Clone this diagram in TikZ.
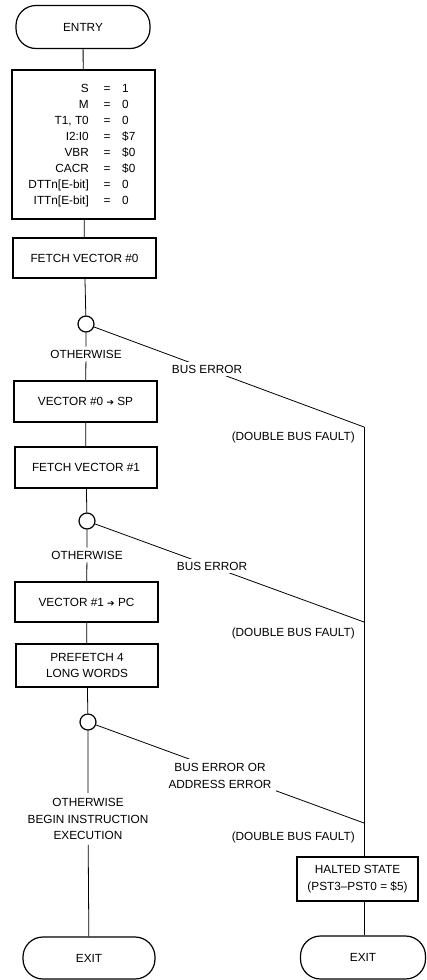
\documentclass[tikz,border=0pt]{standalone}
\usepackage{fontspec}
\setmainfont{Liberation Sans}
\newfontfamily\symfont{DejaVu Sans}
\newcommand{\goesto}{{\symfont\fontsize{9}{9}\selectfont ➔}}
\begin{document}
\begin{tikzpicture}[x=1pt,y=-1pt,
  every node/.style={font=\fontsize{11.8}{16.5}\selectfont, inner sep=0pt},
  box/.style={draw, line width=1.2pt, align=center},
  term/.style={draw, line width=1.2pt, rounded corners=20pt},
  dot/.style={draw, circle, line width=1.2pt, minimum size=16pt},
  lbl/.style={align=center, inner sep=3pt, fill=white},
  conn/.style={line width=0.8pt}]
\useasboundingbox (0,0) rectangle (427,980);

% left column
\node[term, minimum width=134pt, minimum height=43pt] (entry) at (83,27) {ENTRY};
\node[box, minimum width=143pt, minimum height=149pt] (init) at (83.5,144.5) {};
\foreach \l/\v [count=\i] in {S/1, M/0, {T1, T0}/0, I2:I0/\$7, VBR/\$0, CACR/\$0, {DTTn[E-bit]}/0, {ITTn[E-bit]}/0} {
  \pgfmathsetmacro\yy{92+16.14*(\i-1)}
  \node[anchor=base east] (k\i) at (89,\yy) {\l};
  \node[anchor=base] (q\i) at (107,\yy) {=};
  \node[anchor=base west] (v\i) at (122,\yy) {\v};
}
\node[box, minimum width=143pt, minimum height=40pt] (fv0) at (84.5,258) {FETCH VECTOR \#0};
\node[dot] (c1) at (86,324) {};
\node[lbl] (ow1) at (86,354) {OTHERWISE};
\node[box, minimum width=143pt, minimum height=41pt] (v0sp) at (85.5,401.5) {VECTOR \#0 \goesto\ SP};
\node[box, minimum width=142pt, minimum height=41pt] (fv1) at (86,467.5) {FETCH VECTOR \#1};
\node[dot] (c2) at (87,521) {};
\node[lbl] (ow2) at (87,555) {OTHERWISE};
\node[box, minimum width=143pt, minimum height=40pt] (v1pc) at (86.5,602) {VECTOR \#1 \goesto\ PC};
\node[box, minimum width=142pt, minimum height=43pt, font=\fontsize{11.8}{15.5}\selectfont] (pre) at (87,665.5) {PREFETCH 4\\LONG WORDS};
\node[dot] (c3) at (88,722) {};
\node[lbl, inner sep=5pt] (ow3) at (88,819) {OTHERWISE\\BEGIN INSTRUCTION\\EXECUTION};
\node[term, minimum width=132pt, minimum height=42pt] (exitl) at (89,958) {EXIT};

% right column
\coordinate (j1) at (364,427);
\coordinate (j2) at (364,622);
\coordinate (j3) at (364,823);
\node[box, minimum width=121pt, minimum height=44pt] (halted) at (357.5,879) {HALTED STATE\\(PST3–PST0 = \$5)};
\node[term, minimum width=125pt, minimum height=43pt] (exitr) at (363,957.5) {EXIT};

% connectors
\draw[conn] (entry) -- (init);
\draw[conn] (init) -- (fv0);
\draw[conn] (fv0) -- (c1);
\draw[conn] (c1) -- (ow1) -- (v0sp);
\draw[conn] (v0sp) -- (fv1);
\draw[conn] (fv1) -- (c2);
\draw[conn] (c2) -- (ow2) -- (v1pc);
\draw[conn] (v1pc) -- (pre);
\draw[conn] (pre) -- (c3);
\draw[conn] (c3) -- (ow3) -- (exitl);

\draw[conn] (c1) -- (j1);
\draw[conn] (c2) -- (j2);
\draw[conn] (c3) -- (j3);
\draw[conn] (j1) -- (j1 |- halted.north);
\draw[conn] (halted.south -| j1) -- (j1 |- exitr.north);

% labels on the error paths
\node[lbl] (be1) at (207,369) {BUS ERROR};
\node[lbl] (be2) at (212,566) {BUS ERROR};
\node[lbl, inner sep=5pt] (be3) at (220,776) {BUS ERROR OR\\ADDRESS ERROR};
\node[anchor=east] (dbf1) at (355,437) {(DOUBLE BUS FAULT)};
\node[anchor=east] (dbf2) at (355,633) {(DOUBLE BUS FAULT)};
\node[anchor=east] (dbf3) at (355,837) {(DOUBLE BUS FAULT)};
\end{tikzpicture}
\end{document}
